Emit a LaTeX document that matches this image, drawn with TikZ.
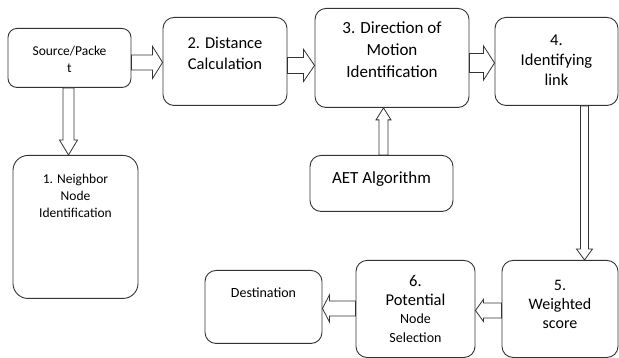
\documentclass[tikz,border=0pt]{standalone}
\usepackage{fontspec}
\setmainfont{Carlito}
\usetikzlibrary{calc}

\tikzset{
    box/.style={draw=black!80, line width=0.9pt, rounded corners=11pt, inner sep=0pt, align=center, anchor=north},
    fatarr/.style={draw=black!80, line width=0.8pt, fill=white, line join=miter},
}

% block arrow: from, to, shaft half width, head half width, head length
\newcommand{\fatarrow}[5]{%
    \pgfmathsetmacro{\fsa}{atan2(#3,#5)}%
    \pgfmathsetmacro{\fsd}{veclen(#3,#5)}%
    \pgfmathsetmacro{\fha}{atan2(#4,#5)}%
    \pgfmathsetmacro{\fhd}{veclen(#4,#5)}%
    \draw[fatarr] ($(#1)!#3pt!90:(#2)$) -- ($(#2)!\fsd pt!-\fsa:(#1)$)
        -- ($(#2)!\fhd pt!-\fha:(#1)$) -- (#2) -- ($(#2)!\fhd pt!\fha:(#1)$)
        -- ($(#2)!\fsd pt!\fsa:(#1)$) -- ($(#1)!#3pt!-90:(#2)$) -- cycle;%
}

\begin{document}
\begin{tikzpicture}[x=1pt, y=-1pt]
    \useasboundingbox (0,0) rectangle (619,358);

    % Boxes
    \node[box, rounded corners=9pt, minimum width=123pt, text height=44pt, text depth=15pt,
          font=\fontsize{13.5}{17}\selectfont] (src) at (69.5,28) {Source/Packe\\t};
    \node[box, rounded corners=15pt, minimum width=125pt, text height=62pt, text depth=81pt,
          font=\fontsize{13.5}{17}\selectfont] (nbr) at (75.5,155) {1. Neighbor\\Node\\Identification};
    \node[box, minimum width=124pt, text height=52pt, text depth=36pt,
          font=\fontsize{16.5}{21}\selectfont] (dist) at (225,17) {2. Distance\\Calculation};
    \node[box, minimum width=154pt, text height=69pt, text depth=30pt,
          font=\fontsize{17}{22}\selectfont] (motion) at (392,8) {3. Direction of\\Motion\\Identification};
    \node[box, minimum width=123pt, text height=68pt, text depth=20pt,
          font=\fontsize{16.5}{20}\selectfont] (link) at (556.5,17) {4.\\Identifying\\link};
    \node[box, minimum width=143pt, text height=28pt, text depth=28pt,
          font=\fontsize{17}{20}\selectfont] (aet) at (381.5,155) {AET Algorithm};
    \node[box, minimum width=116pt, text height=68pt, text depth=29pt,
          font=\fontsize{16}{19}\selectfont] (score) at (560,260) {5.\\Weighted\\score};
    \node[box, minimum width=119pt, text height=82pt, text depth=15pt,
          font=\fontsize{16.5}{18.5}\selectfont] (pot) at (415.5,260)
          {6.\\Potential\\\fontsize{14}{20}\selectfont Node\\\fontsize{14}{16}\selectfont Selection};
    \node[box, minimum width=117pt, text height=27pt, text depth=46pt,
          font=\fontsize{14}{17}\selectfont] (dest) at (263.5,270) {Destination};

    % Arrow ends
    \coordinate (a1) at ([yshift=-1pt]dist.west);
    \coordinate (a2) at ([yshift=-4pt]dist.east);
    \coordinate (a3) at ([yshift=-1.5pt]link.west);
    \coordinate (a4) at ([xshift=-1pt]src.south);
    \coordinate (a5) at ([xshift=2pt]aet.north);
    \coordinate (a6) at ([xshift=28pt]link.south);
    \coordinate (a7) at ([yshift=-1.5pt]score.west);
    \coordinate (a8) at ([yshift=0.5pt]pot.west);

    % Arrows
    \fatarrow{src.east |- a1}{a1}{7.5}{16}{10}
    \fatarrow{a2}{motion.west |- a2}{8}{16}{11}
    \fatarrow{motion.east |- a3}{a3}{9.5}{17}{11}
    \fatarrow{a4}{nbr.north -| a4}{5.5}{9}{15}
    \fatarrow{a5}{motion.south -| a5}{4.5}{7.5}{12}
    \fatarrow{a6}{score.north -| a6}{4}{8}{11}
    \fatarrow{a7}{pot.east |- a7}{7.5}{11}{8}
    \fatarrow{a8}{dest.east |- a8}{7.5}{13.5}{7}
\end{tikzpicture}
\end{document}
